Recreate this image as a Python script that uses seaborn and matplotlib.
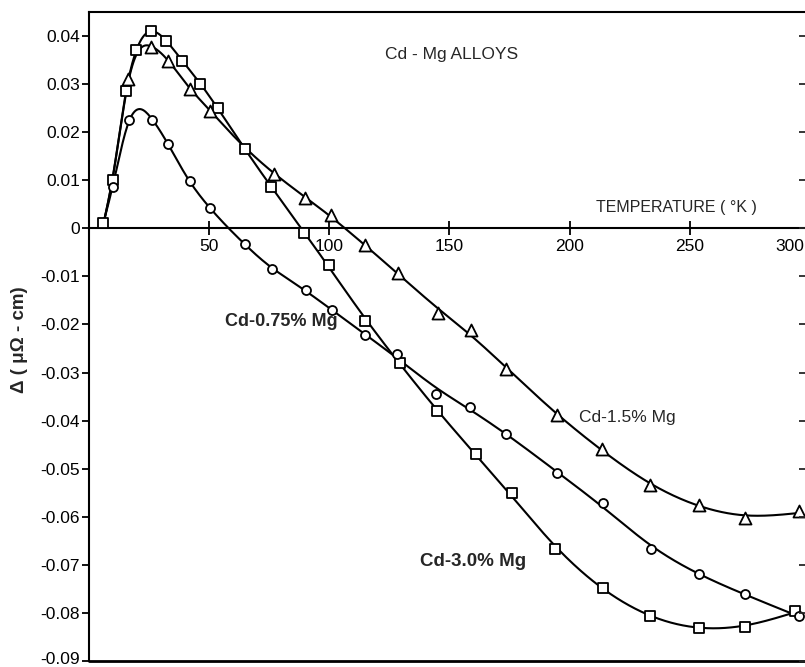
import numpy as np
import pandas as pd
import matplotlib
matplotlib.use("Agg")
import matplotlib.pyplot as plt
import matplotlib.transforms as mtransforms
import seaborn as sns

# ---- measured data: temperature (K) and resistivity deviation (micro-ohm cm) ----
temps_30 = [6.2, 10.2, 15.4, 19.9, 26.1, 32.2, 38.9, 46.5, 53.7, 64.9, 76.0, 89.8,
            100.1, 114.9, 129.7, 144.7, 161.0, 176.1, 194.1, 213.8, 233.6, 253.7,
            272.9, 293.8]
delta_30 = [0.0012, 0.0101, 0.0285, 0.0370, 0.0410, 0.0390, 0.0349, 0.0301, 0.0250,
            0.0166, 0.0086, -0.0009, -0.0077, -0.0193, -0.0280, -0.0380, -0.0470,
            -0.0550, -0.0668, -0.0749, -0.0806, -0.0831, -0.0829, -0.0795]

temps_15 = [16.5, 26.1, 33.1, 42.3, 50.6, 77.2, 90.0, 100.8, 114.9, 128.5, 145.4,
            159.2, 173.7, 194.9, 213.6, 233.6, 253.7, 272.9, 295.4]
delta_15 = [0.0310, 0.0377, 0.0349, 0.0290, 0.0245, 0.0114, 0.0063, 0.0027, -0.0035,
            -0.0092, -0.0177, -0.0212, -0.0292, -0.0389, -0.0459, -0.0533, -0.0576,
            -0.0602, -0.0588]

temps_075 = [10.2, 16.7, 26.4, 33.1, 42.0, 50.6, 64.9, 76.5, 90.5, 101.1, 114.9,
             128.3, 144.4, 158.8, 173.7, 194.6, 213.8, 233.9, 253.7, 272.9, 295.4]
delta_075 = [0.0087, 0.0225, 0.0226, 0.0175, 0.0098, 0.0042, -0.0032, -0.0085,
             -0.0129, -0.0170, -0.0222, -0.0262, -0.0344, -0.0371, -0.0427, -0.0509,
             -0.0572, -0.0668, -0.0718, -0.0760, -0.0807]

y_ticks = [0.04, 0.03, 0.02, 0.01, 0.0, -0.01, -0.02, -0.03, -0.04, -0.05, -0.06,
           -0.07, -0.08, -0.09]
y_tick_labels = ["0.04", "0.03", "0.02", "0.01", "0", "-0.01", "-0.02", "-0.03",
                 "-0.04", "-0.05", "-0.06", "-0.07", "-0.08", "-0.09"]
x_ticks = [50, 100, 150, 200, 250, 300]
x_tick_labels = ["50", "100", "150", "200", "250", "300"]


def smooth_fit(xs, ys, step=0.5):
    """Penalised (Whittaker-type) smoothing curve through the measurements.

    The stiffness grows with temperature so the sharp low-temperature peak
    is kept while the scatter of the high-temperature points is averaged out.
    """
    x = np.asarray(xs, float)
    y = np.asarray(ys, float)
    grid = np.arange(x.min(), x.max() + step / 2, step)
    n = grid.size
    W = np.zeros((x.size, n))
    for k, xv in enumerate(x):
        j = min(int((xv - grid[0]) // step), n - 2)
        f = (xv - grid[j]) / step
        W[k, j] = 1 - f
        W[k, j + 1] = f
    D = np.diff(np.eye(n), n=2, axis=0)
    mid = grid[1:-1]
    lam_cont = np.exp(np.interp(mid, [0, 40, 110, 300],
                                np.log([4.0, 4.0, 1200.0, 1200.0])))
    lam = lam_cont / step**3
    A = W.T @ W + D.T @ (lam[:, None] * D)
    z = np.linalg.solve(A, W.T @ y)
    return grid, z


sns.set_theme(style="white")
plt.rcParams["font.family"] = ["Liberation Sans", "DejaVu Sans"]
plt.rcParams["axes.unicode_minus"] = False

fig = plt.figure(figsize=(8.05, 6.67), dpi=100)
ax = fig.add_axes([88.5 / 805, 6 / 667, (810 - 88.5) / 805, (661 - 12) / 667])
ax.set_xlim(0, 300)
ax.set_ylim(-0.09, 0.045)

# all three curves leave from the common low-temperature point
curves = [
    (temps_30, delta_30),
    (temps_30[:2] + temps_15, delta_30[:2] + delta_15),
    (temps_30[:1] + temps_075, delta_30[:1] + delta_075),
]
for cx, cy in curves:
    sx, sy = smooth_fit(cx, cy)
    sns.lineplot(x=sx, y=sy, sort=False, estimator=None, color="black",
                 linewidth=1.5, ax=ax, zorder=2)

marker_kw = dict(facecolor="white", edgecolor="black", linewidth=1.3, zorder=3,
                 ax=ax, legend=False)
sns.scatterplot(x=temps_30, y=delta_30, marker="s", s=60, **marker_kw)
sns.scatterplot(x=temps_15, y=delta_15, marker="^", s=75, **marker_kw)
sns.scatterplot(x=temps_075, y=delta_075, marker="o", s=42, **marker_kw)

# frame: temperature axis runs along zero, with a closed box around the plot
for side in ["left", "top", "right", "bottom"]:
    ax.spines[side].set_visible(True)
    ax.spines[side].set_color("black")
    ax.spines[side].set_linewidth(1.5)
ax.spines["bottom"].set_position(("data", 0.0))
ax.plot([0, 300], [-0.09, -0.09], color="black", lw=2.0, clip_on=False, zorder=4)

ax.set_xticks(x_ticks)
ax.set_xticklabels(x_tick_labels)
ax.set_yticks(y_ticks)
ax.set_yticklabels(y_tick_labels)
ax.tick_params(axis="x", direction="inout", length=10, width=1.3, pad=3,
               labelsize=12.5, colors="black", bottom=True)
ax.tick_params(axis="y", direction="out", length=5, width=1.3, pad=1,
               labelsize=12.5, colors="black", left=True)

# the last temperature label sits just inside the right-hand frame
last_label = ax.get_xticklabels()[-1]
last_label.set_transform(last_label.get_transform() +
                         mtransforms.ScaledTranslation(-0.2, 0, fig.dpi_scale_trans))
# lowest value label nudged up so it stays on the page
low_label = ax.get_yticklabels()[-1]
low_label.set_transform(low_label.get_transform() +
                        mtransforms.ScaledTranslation(0, 0.03, fig.dpi_scale_trans))

ax_r = ax.twinx()
ax_r.set_ylim(ax.get_ylim())
ax_r.set_yticks(y_ticks)
ax_r.tick_params(axis="y", direction="in", length=8, width=1.3, labelright=False)
for side in ["left", "top", "right", "bottom"]:
    ax_r.spines[side].set_visible(False)

ax.set_xlabel("")
ax.set_ylabel("")

ax.text(151, 0.0362, "Cd - Mg ALLOYS", ha="center", va="center", fontsize=12.5)
ax.text(244.5, 0.0044, "TEMPERATURE ( °K )", ha="center", va="center", fontsize=11.5)
ax.text(80, -0.0193, "Cd-0.75% Mg", ha="center", va="center", fontsize=13,
        fontweight="bold")
ax.text(224, -0.0393, "Cd-1.5% Mg", ha="center", va="center", fontsize=12.5)
ax.text(160, -0.0694, "Cd-3.0% Mg", ha="center", va="center", fontsize=13.5,
        fontweight="bold")

fig.text(20 / 805, 1 - 340 / 667, "Δ ( μΩ - cm)", rotation=90, ha="center",
         va="center", fontsize=13.5, fontweight="bold")

fig.savefig("out.png", dpi=100, facecolor="white")
